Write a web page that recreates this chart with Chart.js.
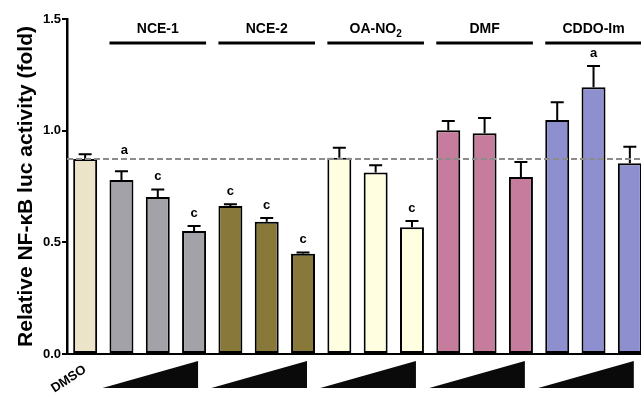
<!DOCTYPE html>
<html>
<head>
<meta charset="utf-8">
<script src="https://cdn.jsdelivr.net/npm/chart.js@4"></script>
<style>
  html, body { margin: 0; padding: 0; overflow: hidden; background: #fff; }
  canvas { display: block; }
</style>
</head>
<body>
<canvas id="chart" width="660" height="394"></canvas>
<script>
// data
const categories = ["DMSO", "NCE-1 a", "NCE-1 b", "NCE-1 c", "NCE-2 a", "NCE-2 b", "NCE-2 c",
  "OA-NO2 a", "OA-NO2 b", "OA-NO2 c", "DMF a", "DMF b", "DMF c", "CDDO-Im a", "CDDO-Im b", "CDDO-Im c"];
const means = [0.873, 0.779, 0.703, 0.551, 0.663, 0.592, 0.449, 0.879, 0.813, 0.567, 1.002, 0.988, 0.793, 1.048, 1.194, 0.854];
const errors = [0.021, 0.039, 0.034, 0.022, 0.007, 0.017, 0.006, 0.045, 0.032, 0.029, 0.041, 0.069, 0.067, 0.079, 0.096, 0.074];
const letters = ["", "a", "c", "c", "c", "c", "c", "", "", "c", "", "", "", "", "a", ""];
const barColors = ["#ece4c8", "#a2a2a8", "#a2a2a8", "#a2a2a8", "#88783a", "#88783a", "#88783a",
  "#fffee0", "#fffee0", "#fffee0", "#c67c9d", "#c67c9d", "#c67c9d", "#8d8fcf", "#8d8fcf", "#8d8fcf"];
const groupNames = ["NCE-1", "NCE-2", "OA-NO", "DMF", "CDDO-Im"];
const groupSubs = ["", "", "2", "", ""];
const groupFirst = [1, 4, 7, 10, 13];
const yTicks = [0, 0.5, 1.0, 1.5];

Chart.defaults.font.family = "'Liberation Sans', Arial, sans-serif";
Chart.defaults.color = "#000";

const annotate = {
  id: "annotate",
  afterDatasetsDraw(c) {
    const ctx = c.ctx, y = c.scales.y, area = c.chartArea;
    const bars = c.getDatasetMeta(0).data;
    const refY = y.getPixelForValue(means[0]);
    ctx.save();

    // error bars (upper only)
    ctx.strokeStyle = "#000";
    ctx.lineWidth = 2;
    bars.forEach((b, i) => {
      const top = y.getPixelForValue(means[i] + errors[i]);
      ctx.beginPath();
      ctx.moveTo(b.x, b.y);
      ctx.lineTo(b.x, top);
      ctx.moveTo(b.x - 6.5, top);
      ctx.lineTo(b.x + 6.5, top);
      ctx.stroke();
    });

    // DMSO reference line
    ctx.setLineDash([6, 3]);
    ctx.strokeStyle = "#8c8c8c";
    ctx.beginPath();
    ctx.moveTo(area.left, refY);
    ctx.lineTo(c.width, refY);
    ctx.stroke();
    ctx.setLineDash([]);
    ctx.strokeStyle = "#000";

    // significance letters, lifted over the dashed line if they would touch it
    ctx.fillStyle = "#000";
    ctx.font = "bold 13px 'Liberation Sans', Arial, sans-serif";
    ctx.textAlign = "center";
    ctx.textBaseline = "alphabetic";
    bars.forEach((b, i) => {
      if (!letters[i]) return;
      let base = y.getPixelForValue(means[i] + errors[i]) - 9;
      if (base > refY - 4 && base - 9 < refY + 2) base = refY - 5;
      ctx.fillText(letters[i], b.x + (i === 1 ? 3 : 0), base);
    });

    // group headers, lines and dose triangles
    groupFirst.forEach((f, g) => {
      const b1 = bars[f], b3 = bars[f + 2];
      const l = b1.x - b1.width / 2, r = b3.x + b3.width / 2;
      ctx.lineWidth = 3;
      ctx.beginPath();
      ctx.moveTo(l, area.top + 24);
      ctx.lineTo(r, area.top + 24);
      ctx.stroke();

      ctx.font = "bold 14px 'Liberation Sans', Arial, sans-serif";
      const w1 = ctx.measureText(groupNames[g]).width;
      ctx.font = "bold 10px 'Liberation Sans', Arial, sans-serif";
      const w2 = groupSubs[g] ? ctx.measureText(groupSubs[g]).width : 0;
      const cx = (l + r) / 2, x0 = cx - (w1 + w2) / 2;
      ctx.textAlign = "left";
      ctx.font = "bold 14px 'Liberation Sans', Arial, sans-serif";
      ctx.fillText(groupNames[g], x0, area.top + 14);
      if (groupSubs[g]) {
        ctx.font = "bold 10px 'Liberation Sans', Arial, sans-serif";
        ctx.fillText(groupSubs[g], x0 + w1, area.top + 18);
      }

      ctx.fillStyle = "#0a0a0a";
      ctx.beginPath();
      ctx.moveTo(l - 7, area.bottom + 34);
      ctx.lineTo(r - 8, area.bottom + 34);
      ctx.lineTo(r - 8, area.bottom + 7);
      ctx.closePath();
      ctx.fill();
      ctx.fillStyle = "#000";
    });
    ctx.restore();
  }
};

new Chart(document.getElementById("chart"), {
  type: "bar",
  data: {
    labels: categories,
    datasets: [{
      data: means,
      backgroundColor: barColors,
      borderColor: "#000",
      borderWidth: 2,
      borderSkipped: false,
      categoryPercentage: 1,
      barPercentage: 0.66
    }]
  },
  options: {
    responsive: false,
    animation: false,
    layout: { padding: { top: 19, right: 12, bottom: 0, left: 0 } },
    plugins: { legend: { display: false }, tooltip: { enabled: false } },
    scales: {
      x: {
        grid: { display: false },
        border: { display: true, color: "#000", width: 2 },
        ticks: {
          autoSkip: false,
          minRotation: 33,
          maxRotation: 33,
          padding: 0,
          font: { size: 13, weight: "bold" },
          callback: (v, i) => (i === 0 ? categories[0] : "")
        },
        afterFit: s => { s.height = 40; }
      },
      y: {
        min: 0,
        max: 1.5,
        afterBuildTicks: s => { s.ticks = yTicks.map(v => ({ value: v })); },
        grid: { drawOnChartArea: false, color: "#000", lineWidth: 2, tickLength: 5 },
        border: { display: true, color: "#000", width: 2.5 },
        ticks: {
          padding: 1,
          font: { size: 13, weight: "bold" },
          callback: v => v.toFixed(1)
        },
        title: {
          display: true,
          text: "Relative NF-κB luc activity (fold)",
          font: { size: 21, weight: "bold" },
          padding: { top: 14, bottom: 0 }
        },
        afterFit: s => { s.width = 67; }
      }
    }
  },
  plugins: [annotate]
});
</script>
</body>
</html>
